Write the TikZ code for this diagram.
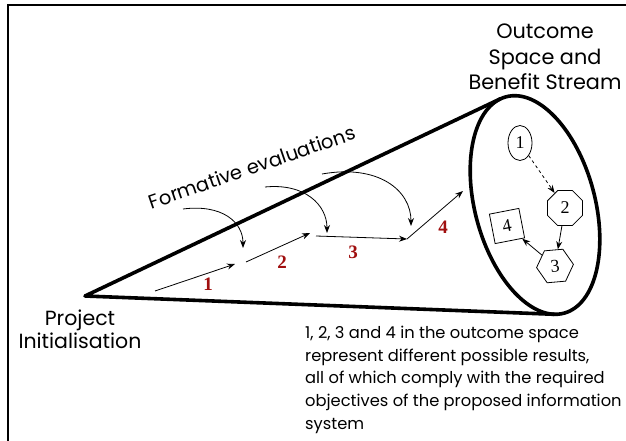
\documentclass[tikz,border=0pt]{standalone}
\usepackage{fontspec}
\setmainfont{Poppins}
\newfontfamily\numfont{Liberation Serif}
\usetikzlibrary{arrows.meta,shapes.geometric}
\definecolor{lblred}{HTML}{A00F0F}
\tikzset{
  cone/.style={line width=3.6pt, line cap=round, line join=round},
  flow/.style={line width=0.8pt, -{Stealth[length=8pt,width=6pt]}},
  evalarrow/.style={line width=0.8pt, -{Stealth[length=8pt,width=6pt]}},
  lbl/.style={text=lblred, font=\numfont\bfseries\fontsize{19}{19}\selectfont, inner sep=0pt},
  res/.style={draw, line width=0.8pt, font=\numfont\fontsize{18}{18}\selectfont, inner sep=0pt},
  resarrow/.style={line width=0.8pt, -{Stealth[length=8pt,width=6pt]}},
  bigtext/.style={font=\fontsize{20.8}{25.5}\selectfont, align=center, inner sep=0pt},
}
\begin{document}
\begin{tikzpicture}[x=1pt,y=-1pt]
\useasboundingbox (0,0) rectangle (626,441);
% frame
\draw[line width=2pt] (8,441) -- (8,5) -- (626,5);
% cone
\coordinate (A) at (85,296);
\coordinate (C) at (535,205);
\coordinate (T1) at (500.4,98.8);
\coordinate (T2) at (554.1,314.3);
\draw[cone] (C) [rotate around={15:(C)}] ellipse [x radius=60pt, y radius=112pt];
\draw[cone] (T1) -- (A) -- (T2);
% texts
\node[bigtext] (out) at (545,57) {Outcome\\Space and\\Benefit Stream};
\node[bigtext, font=\fontsize{20.5}{23}\selectfont] (proj) at (80,329) {Project\\Initialisation};
\node[font=\fontsize{19.5}{19.5}\selectfont, rotate=19, inner sep=0pt] (form) at (252,167) {Formative evaluations};
\node[anchor=north west, align=left, inner sep=0pt, font=\fontsize{16.3}{22.6}\selectfont] (note) at (305,326)
 {1, 2, 3 and 4 in the outcome space\\represent different possible results,\\all of which comply with the required\\objectives of the proposed information\\system};
% path arrows
\coordinate (p1s) at (155,291); \coordinate (p1e) at (235,264);
\coordinate (p2s) at (246,262); \coordinate (p2e) at (310,233);
\coordinate (p3s) at (316,236); \coordinate (p3e) at (407,239);
\coordinate (p4e) at (463,191);
\draw[flow] (p1s) -- (p1e);
\draw[flow] (p2s) -- (p2e);
\draw[flow] (p3s) -- (p3e);
\draw[flow] (p3e) -- (p4e);
\node[lbl] (l1) at (208,284) {1};
\node[lbl] (l2) at (282,262) {2};
\node[lbl] (l3) at (353,252) {3};
\node[lbl] (l4) at (443,227) {4};
% formative evaluation arrows
\coordinate (e1s) at (183,209); \coordinate (e1e) at (243,248);
\coordinate (e2s) at (265,187); \coordinate (e2e) at (327,233);
\coordinate (e3s) at (322,174); \coordinate (e3e) at (411,226);
\draw[evalarrow] (e1s) .. controls (222,204) and (243,222) .. (e1e);
\draw[evalarrow] (e2s) .. controls (305,183) and (327,205) .. (e2e);
\draw[evalarrow] (e3s) .. controls (378,164) and (411,190) .. (e3e);
% outcome results
\node[res, ellipse, minimum width=24pt, minimum height=35pt] (r1) at (520,143) {1};
\node[res, regular polygon, regular polygon sides=8, minimum size=38pt] (r2) at (565,208) {2};
\node[res, regular polygon, regular polygon sides=6, minimum size=37pt, rotate=5] (r3) at (555,266) {3};
\node[res, rectangle, minimum size=30pt, rotate=11] (r4) at (507,226) {4};
\draw[resarrow, dashed] (r1) -- (r2);
\draw[resarrow] (r2) -- (r3);
\draw[resarrow] (r3) -- (r4);
\end{tikzpicture}
\end{document}
